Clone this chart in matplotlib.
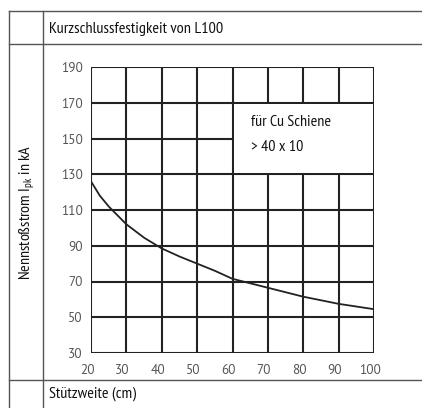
import matplotlib
matplotlib.use("Agg")
import matplotlib.pyplot as plt
from matplotlib.patches import Rectangle
from matplotlib.transforms import ScaledTranslation

# curve (Stützweite in cm -> Nennstoßstrom in kA)
span_cm = [20, 22.5, 25, 27.5, 30, 35, 40, 45, 50, 55, 60, 65, 70, 75, 80, 85, 90, 95, 100]
ipk_ka = [126, 118, 112, 107, 102, 94.5, 88.5, 84, 80, 76, 71.5, 69, 66.5, 64, 61.5, 59.5, 57.5, 56, 54.5]

x_ticks = [20, 30, 40, 50, 60, 70, 80, 90, 100]
y_ticks = [30, 50, 70, 90, 110, 130, 150, 170, 190]

title_txt = "Kurzschlussfestigkeit von L100"
ylabel_txt = "Nennstoßstrom I$_{\\mathregular{pk}}$ in kA"
xlabel_txt = "Stützweite (cm)"
note_lines = ["für Cu Schiene", "> 40 x 10"]

W, H = 422, 408
narrow = ["PT Sans Narrow", "Roboto Condensed", "DejaVu Sans"]
plt.rcParams["font.family"] = narrow
plt.rcParams["mathtext.default"] = "regular"

fig = plt.figure(figsize=(W / 100, H / 100), dpi=100)

# overlay in pixel coordinates for the table frame
bg = fig.add_axes([0, 0, 1, 1])
bg.set_xlim(0, W)
bg.set_ylim(H, 0)
bg.axis("off")

frame_col = "#555555"
bg.plot([9, W], [11, 11], color=frame_col, lw=1)
bg.plot([9, W], [44, 44], color=frame_col, lw=1)
bg.plot([9, W], [380, 380], color=frame_col, lw=1)
bg.plot([9, 9], [11, H], color=frame_col, lw=1)
bg.plot([43, 43], [11, H], color=frame_col, lw=1)
# the chart picture sits on top of the bottom row line
bg.add_patch(Rectangle((48, 46), 340, 333, facecolor="white", edgecolor="none", zorder=3))

bg.text(49, 29, title_txt, fontsize=11.7, va="center", ha="left", color="#111111")
bg.text(49, 394, xlabel_txt, fontsize=11.7, va="center", ha="left", color="#111111")
bg.text(27, 212, ylabel_txt, fontsize=11.5, va="center", ha="center",
        rotation=90, color="#111111")

# chart
left, right, top, bottom = 91, 374, 67, 353
ax = fig.add_axes([left / W, 1 - bottom / H, (right - left) / W, (bottom - top) / H])
ax.set_zorder(5)
ax.set_xlim(20, 100)
ax.set_ylim(30, 190)
grid_col = "#222222"
for v in x_ticks:
    ax.axvline(v, color=grid_col, lw=1.5, zorder=1)
for v in y_ticks:
    ax.axhline(v, color=grid_col, lw=1.5, zorder=1)
for s in ax.spines.values():
    s.set_visible(False)

# white box for the note (covers the inner grid lines)
ax.add_patch(Rectangle((60.3, 130.6), 39.4, 38.8, facecolor="white", edgecolor="none", zorder=2))
ax.text(65.3, 159, note_lines[0], fontsize=11.5, va="center", ha="left", zorder=4, color="#111111")
ax.text(65.3, 145, note_lines[1], fontsize=11.5, va="center", ha="left", zorder=4, color="#111111")

ax.plot(span_cm, ipk_ka, color="#222222", lw=1.3, zorder=3)

ax.set_xticks(x_ticks)
ax.set_yticks(y_ticks)
ax.tick_params(length=0, labelsize=9.5, labelcolor="#555555")
ax.tick_params(axis="y", pad=6)
ax.tick_params(axis="x", pad=8)
shift = ScaledTranslation(-4 / 100, 0, fig.dpi_scale_trans)
for lab in ax.get_xticklabels():
    lab.set_transform(lab.get_transform() + shift)
    lab.set_family(["PT Sans", "Liberation Sans", "DejaVu Sans"])
for lab in ax.get_yticklabels():
    lab.set_family(["PT Sans", "Liberation Sans", "DejaVu Sans"])

fig.savefig("out.png", dpi=100)
